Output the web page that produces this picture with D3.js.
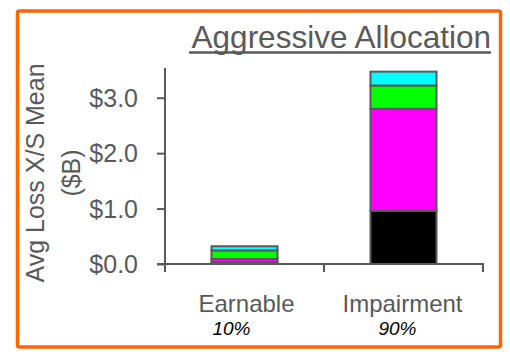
<!DOCTYPE html>
<html lang="en">
<head>
<meta charset="utf-8">
<title>Aggressive Allocation</title>
<script src="https://cdn.jsdelivr.net/npm/d3@7"></script>
<style>
  body { margin: 0; background: #fff; }
  text { font-family: "Liberation Sans", Arial, sans-serif; }
</style>
</head>
<body>
<div id="chart"></div>
<script>
// data
var categories = ["Earnable", "Impairment"];
var shares = ["10%", "90%"];
var seriesNames = ["black", "magenta", "green", "cyan"];
var blackVals = [0.035, 0.96];
var magentaVals = [0.055, 1.84];
var greenVals = [0.155, 0.42];
var cyanVals = [0.075, 0.25];
var yTicks = [0, 1, 2, 3];

var colors = ["#000000", "#ff00ff", "#00ff00", "#00ffff"];
var grey = "#595959";

var w = 510, h = 354;

var svg = d3.select("#chart").append("svg")
  .attr("width", w)
  .attr("height", h);

// orange frame
svg.append("rect")
  .attr("x", 17.5).attr("y", 11)
  .attr("width", 483).attr("height", 336)
  .attr("rx", 2)
  .attr("fill", "none")
  .attr("stroke", "#ff6600")
  .attr("stroke-width", 3.5);

var x = d3.scaleBand().domain(categories).range([165, 483]).paddingInner(0).paddingOuter(0);
var y = d3.scaleLinear().domain([0, 3.5]).range([264, 70]);

// stack
var table = categories.map(function(c, i) {
  return { cat: c, black: blackVals[i], magenta: magentaVals[i], green: greenVals[i], cyan: cyanVals[i] };
});
var stack = d3.stack().keys(seriesNames)(table);

var barW = 66;
svg.selectAll("g.layer")
  .data(stack)
  .enter().append("g")
  .attr("class", "layer")
  .attr("fill", function(d, i) { return colors[i]; })
  .selectAll("rect")
  .data(function(d) { return d; })
  .enter().append("rect")
  .attr("x", function(d) { return x(d.data.cat) + x.bandwidth() / 2 - barW / 2; })
  .attr("y", function(d) { return y(d[1]); })
  .attr("width", barW)
  .attr("height", function(d) { return y(d[0]) - y(d[1]); })
  .attr("stroke", grey)
  .attr("stroke-width", 2);

// y axis
var yAxis = d3.axisLeft(y).tickValues(yTicks).tickSize(8).tickSizeOuter(0)
  .tickFormat(function(d) { return "$" + d3.format(".1f")(d); });
var gy = svg.append("g").attr("transform", "translate(165,0)").call(yAxis);
gy.select(".domain").remove();
gy.selectAll(".tick line").attr("stroke", grey).attr("stroke-width", 2);
gy.selectAll(".tick text")
  .attr("x", -27)
  .attr("dy", "0.35em")
  .attr("fill", grey)
  .attr("font-size", "25px")
  .style("font-family", "'Liberation Sans', Arial, sans-serif");
svg.append("line")
  .attr("x1", 165).attr("x2", 165)
  .attr("y1", 68).attr("y2", 264)
  .attr("stroke", grey).attr("stroke-width", 2);

// x axis with ticks between categories
svg.append("line")
  .attr("x1", 157).attr("x2", 484)
  .attr("y1", 264).attr("y2", 264)
  .attr("stroke", grey).attr("stroke-width", 2);
var bounds = [x.range()[0]].concat(categories.map(function(c) { return x(c) + x.bandwidth(); }));
svg.selectAll(".xtick")
  .data(bounds)
  .enter().append("line")
  .attr("class", "xtick")
  .attr("x1", function(d) { return d; })
  .attr("x2", function(d) { return d; })
  .attr("y1", 264).attr("y2", 272)
  .attr("stroke", grey).attr("stroke-width", 2);

// category labels
svg.selectAll(".cat")
  .data(categories)
  .enter().append("text")
  .attr("class", "cat")
  .attr("x", function(d, i) { return x(d) + x.bandwidth() / 2 + (i == 0 ? 2 : -1); })
  .attr("y", 312)
  .attr("text-anchor", "middle")
  .attr("fill", grey)
  .attr("font-size", "24px")
  .text(function(d) { return d; });

svg.selectAll(".share")
  .data(shares)
  .enter().append("text")
  .attr("class", "share")
  .attr("x", function(d, i) { return x(categories[i]) + x.bandwidth() / 2 + (i == 0 ? -13 : -6); })
  .attr("y", 335)
  .attr("text-anchor", "middle")
  .attr("fill", "#000")
  .attr("font-size", "19px")
  .attr("font-style", "italic")
  .text(function(d) { return d; });

// y axis title
var yt = svg.append("text")
  .attr("transform", "translate(44,173) rotate(-90)")
  .attr("text-anchor", "middle")
  .attr("fill", grey)
  .attr("font-size", "25px");
yt.append("tspan").attr("x", 0).attr("y", 0).text("Avg Loss X/S Mean");
yt.append("tspan").attr("x", 0).attr("y", 36).text("($B)");

// title
svg.append("text")
  .attr("x", 491)
  .attr("y", 48)
  .attr("text-anchor", "end")
  .attr("fill", grey)
  .attr("font-size", "31.5px")
  .text("Aggressive Allocation");
svg.append("line")
  .attr("x1", 189).attr("x2", 491)
  .attr("y1", 52.5).attr("y2", 52.5)
  .attr("stroke", grey).attr("stroke-width", 2.5);
</script>
</body>
</html>
